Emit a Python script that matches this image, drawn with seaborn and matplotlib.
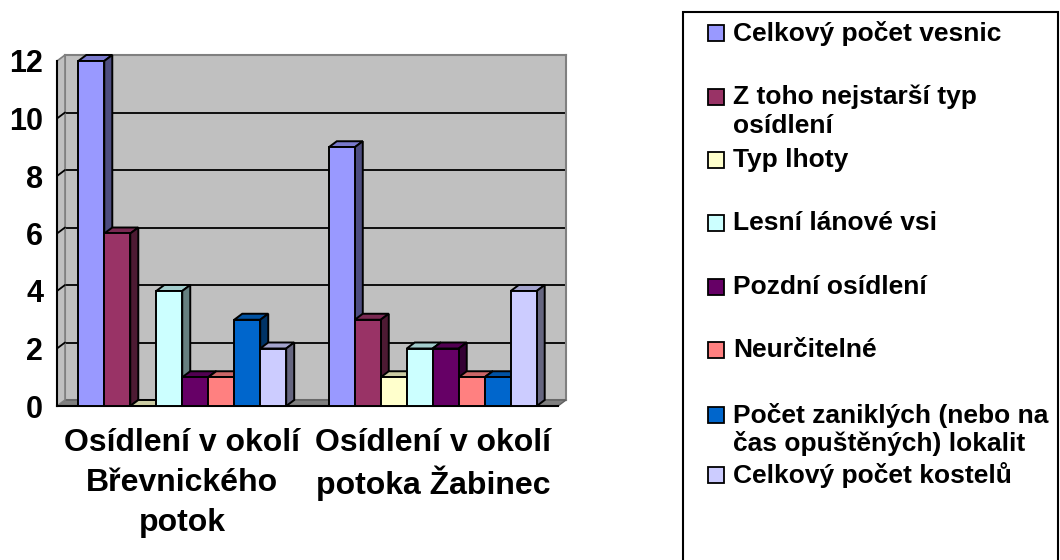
import pandas as pd
import seaborn as sns
import matplotlib.pyplot as plt
from matplotlib.patches import Polygon, Rectangle
from matplotlib.lines import Line2D
from matplotlib.transforms import IdentityTransform
from matplotlib.colors import to_rgb

# data
categories = ["Osídlení v okolí\nBřevnického\npotok", "Osídlení v okolí\npotoka Žabinec"]
series = ["Celkový počet vesnic", "Z toho nejstarší typ\nosídlení", "Typ lhoty",
          "Lesní lánové vsi", "Pozdní osídlení", "Neurčitelné",
          "Počet zaniklých (nebo na\nčas opuštěných) lokalit", "Celkový počet kostelů"]
brevnicky = [12, 6, 0, 4, 1, 1, 3, 2]
zabinec = [9, 3, 1, 2, 2, 1, 1, 4]
colors = ["#9999FF", "#993366", "#FFFFCC", "#CCFFFF", "#660066", "#FF8080", "#0066CC", "#CCCCFF"]
yticks = [0, 2, 4, 6, 8, 10, 12]

df = pd.DataFrame({
    "category": [categories[0]] * len(series) + [categories[1]] * len(series),
    "series": series * 2,
    "value": brevnicky + zabinec,
})

sns.set_style("white")
plt.rcParams['font.family'] = ['Liberation Sans', 'DejaVu Sans']
plt.rcParams['font.weight'] = 'bold'
for key in ["text.color", "axes.labelcolor", "xtick.color", "ytick.color"]:
    plt.rcParams[key] = "black"

W, H = 1060, 560
fig = plt.figure(figsize=(W / 100, H / 100), dpi=100)


def box(x0, y0, x1, y1):
    # pixel box (top-left origin) -> figure rect
    return [x0 / W, 1 - y1 / H, (x1 - x0) / W, (y1 - y0) / H]


DX, DY = 8, 6  # depth of the pseudo 3D walls
PX0, PY0, PX1, PY1 = 57, 61, 558, 406

# back wall with gridlines
back = fig.add_axes(box(PX0 + DX, PY0 - DY, PX1 + DX, PY1 - DY), zorder=0)
back.set_facecolor("#C0C0C0")
back.set_xlim(-0.5, 1.5)
back.set_ylim(0, 12)
back.set_xticks([])
back.set_yticks(yticks)
back.tick_params(left=False, labelleft=False)
back.grid(axis="y", color="black", lw=1.3)
for s in back.spines.values():
    s.set_color("#808080")
    s.set_linewidth(1.5)

# front plane
ax = fig.add_axes(box(PX0, PY0, PX1, PY1), zorder=1)
ax.set_facecolor("none")
sns.barplot(data=df, x="category", y="value", hue="series", palette=colors,
            width=0.83, saturation=1, edgecolor="black", linewidth=1.4,
            legend=False, ax=ax)
ax.set_xlim(-0.5, 1.5)
ax.set_ylim(0, 12)
ax.set_xlabel("")
ax.set_ylabel("")
ax.set_yticks(yticks)
ax.set_xticks([0, 1])
ax.set_xticklabels([])
ax.set_xticks([-0.5, 0.5, 1.5], minor=True)
ax.tick_params(axis="x", which="major", length=0)
ax.tick_params(axis="x", which="minor", length=8, width=1.5, color="black")
ax.tick_params(axis="y", labelsize=22, length=6, width=1.5, color="black",
               labelcolor="black", pad=4)
for lbl in ax.get_yticklabels():
    lbl.set_fontweight("bold")
sns.despine(ax=ax, top=True, right=True)
for side_name in ["left", "bottom"]:
    ax.spines[side_name].set_color("black")
    ax.spines[side_name].set_linewidth(1.5)

# category labels, one line at a time so every line sits on the same rows
for i, cat in enumerate(categories):
    for j, line in enumerate(cat.split("\n")):
        ax.annotate(line, xy=(i, 0), xycoords=("data", "axes fraction"),
                    xytext=(0, -(37 + 40 * j)), textcoords="offset pixels",
                    ha="center", va="center", fontsize=23, fontweight="bold",
                    color="black")

T = ax.transData
ident = IdentityTransform()

# floor and left wall
fl = T.transform((-0.5, 0))
fr = T.transform((1.5, 0))
tl = T.transform((-0.5, 12))
floor = Polygon([fl, fr, (fr[0] + DX, fr[1] + DY), (fl[0] + DX, fl[1] + DY)],
                closed=True, facecolor="#808080", edgecolor="#606060", lw=1,
                transform=ident, zorder=0.5)
fig.add_artist(floor)
wall = Polygon([fl, tl, (tl[0] + DX, tl[1] + DY), (fl[0] + DX, fl[1] + DY)],
               closed=True, facecolor="#C0C0C0", edgecolor="#808080", lw=1.2,
               transform=ident, zorder=0.5)
fig.add_artist(wall)
for t in yticks[1:-1]:
    p = T.transform((-0.5, t))
    fig.add_artist(Line2D([p[0], p[0] + DX], [p[1], p[1] + DY], color="black",
                          lw=1.3, transform=ident, zorder=0.6))

# 3D faces of bars
bars = sorted([p for p in ax.patches if isinstance(p, Rectangle)], key=lambda p: p.get_x())
for i, p in enumerate(bars):
    x0, w, h = p.get_x(), p.get_width(), p.get_height()
    a = T.transform((x0, 0))
    b = T.transform((x0 + w, h))
    c = to_rgb(p.get_facecolor())
    top = Polygon([(a[0], b[1]), (b[0], b[1]), (b[0] + DX, b[1] + DY), (a[0] + DX, b[1] + DY)],
                  closed=True, facecolor=[v * 0.8 for v in c], edgecolor="black", lw=1.4,
                  transform=ident, clip_on=False, zorder=2 + 2 * i)
    side = Polygon([(b[0], a[1]), (b[0], b[1]), (b[0] + DX, b[1] + DY), (b[0] + DX, a[1] + DY)],
                   closed=True, facecolor=[v * 0.5 for v in c], edgecolor="black", lw=1.4,
                   transform=ident, clip_on=False, zorder=2 + 2 * i)
    ax.add_artist(top)
    ax.add_artist(side)
    p.set_zorder(3 + 2 * i)
    p.set_clip_on(False)

# legend box drawn like the Excel one
fig.add_artist(Rectangle((683, H - 640), 375, 628, fill=False, edgecolor="black",
                         lw=1.5, transform=ident, clip_on=False))
entry_y = [33, 97, 160, 223, 287, 350, 415, 475]
for name, col, yc in zip(series, colors, entry_y):
    fig.add_artist(Rectangle((708, H - yc - 8), 16, 16, facecolor=col, edgecolor="black",
                             lw=1.3, transform=ident))
    for j, line in enumerate(name.split("\n")):
        fig.text(733 / W, 1 - (yc + 29 * j) / H, line, fontsize=19, fontweight="bold",
                 va="center", ha="left", color="black")

fig.savefig("out.png", dpi=100)
